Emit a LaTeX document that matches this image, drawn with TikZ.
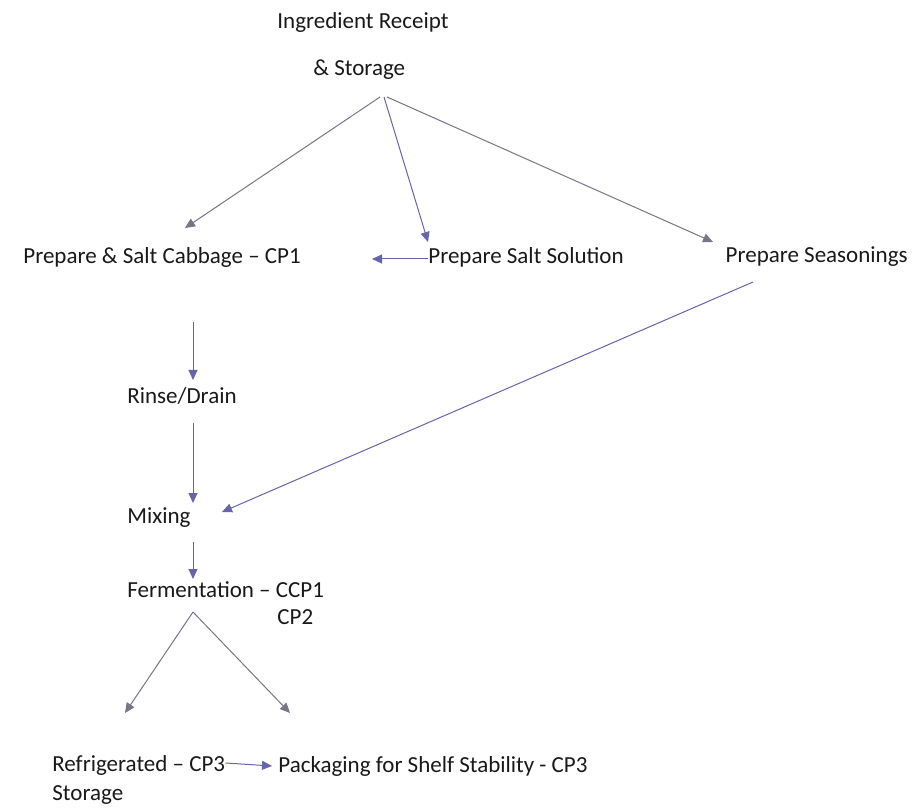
\documentclass[tikz,border=0pt]{standalone}
\usepackage{fontspec}
\setmainfont{Carlito}
\usetikzlibrary{arrows.meta}
\definecolor{flowgrey}{RGB}{118,118,132}
\definecolor{flowblue}{RGB}{104,100,172}
\begin{document}
\begin{tikzpicture}[x=0.5pt,y=-0.5pt]
\tikzstyle{stage}=[anchor=west, inner sep=0pt, font=\fontsize{11.5}{14}\selectfont, text=black!90]
\tikzstyle{flow}=[-{Triangle[length=5pt,width=4.5pt]}, flowblue, line width=0.5pt]
\tikzstyle{feed}=[flow, flowgrey]
    \useasboundingbox (0,0) rectangle (912,808);

    \node[stage] (rec) at (277,22) {Ingredient Receipt};
    \node[stage] (sto) at (313,70) {\& Storage};
    \node[stage] (cab) at (23,257) {Prepare \& Salt Cabbage -- CP1};
    \node[stage] (sal) at (428,257) {Prepare Salt Solution};
    \node[stage, anchor=east] (sea) at (908,257) {Prepare Seasonings};
    \node[stage] (rin) at (127,396) {Rinse/Drain};
    \node[stage] (mix) at (127,518) {Mixing};
    \node[stage] (fer) at (127,590) {Fermentation -- CCP1};
    \node[stage] (cp2) at (277,617) {CP2};
    \node[stage] (ref) at (52,765) {Refrigerated -- CP3};
    \node[stage] (stg) at (52,795) {Storage};
    \node[stage] (pkg) at (278,766) {Packaging for Shelf Stability - CP3};

    \draw[feed] ([shift={(67,27)}]sto.west) -- ([shift={(162,-29)}]cab.west);
    \draw[flow] ([shift={(71,27)}]sto.west) -- ([shift={(0,-15)}]sal.west);
    \draw[feed] ([shift={(74,27)}]sto.west) -- ([shift={(-195,-15)}]sea.east);

    \draw[flow] ([shift={(0,2)}]sal.west) -- ([shift={(349,2)}]cab.west);
    \draw[flow] ([shift={(170,65)}]cab.west) -- ([shift={(66,-16)}]rin.west);
    \draw[flow] ([shift={(66,27)}]rin.west) -- ([shift={(66,-15)}]mix.west);
    \draw[flow] ([shift={(-155,25)}]sea.east) -- ([shift={(95,-6)}]mix.west);
    \draw[flow] ([shift={(66,24)}]mix.west) -- ([shift={(66,-11)}]fer.west);

    \draw[feed] ([shift={(66,22)}]fer.west) -- ([shift={(73,-52)}]ref.west);
    \draw[feed] ([shift={(66,22)}]fer.west) -- ([shift={(12,-53)}]pkg.west);
    \draw[flow] ([yshift=1]ref.east) -- ([shift={(-6,0)}]pkg.west);
\end{tikzpicture}
\end{document}
